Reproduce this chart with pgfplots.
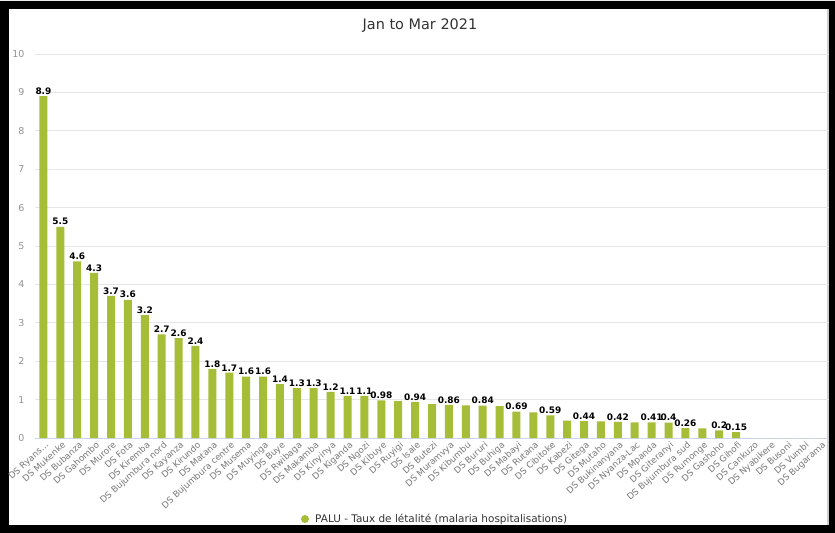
\documentclass[border=0pt]{standalone}
\usepackage{pgfplots}
\pgfplotsset{compat=1.18}
\usepackage{fontspec}
\setmainfont{DejaVu Sans}

\definecolor{barcol}{RGB}{166,189,56}
\definecolor{gridcol}{RGB}{230,230,230}
\definecolor{axiscol}{RGB}{204,214,235}
\definecolor{labcol}{RGB}{120,120,120}
\definecolor{titlecol}{RGB}{51,51,51}

\begin{document}
\begin{tikzpicture}
  % black frame around the white panel
  \path[use as bounding box] (0bp,0bp) rectangle (835bp,533bp);
  \fill[black] (0bp,0bp) rectangle (835bp,532bp);
  \fill[gray!15] (0bp,532bp) rectangle (835bp,533bp);
  \fill[white] (9bp,8bp) rectangle (829bp,524bp);
  \fill[gray!40] (827bp,8bp) rectangle (829bp,524bp);

  % title
  \node[text=titlecol, font=\fontsize{14.5}{17}\selectfont] at (420bp,507bp) {Jan to Mar 2021};

  \begin{axis}[
    at={(35bp,95bp)}, anchor=south west,
    scale only axis,
    width=794bp, height=384bp,
    ymin=0, ymax=10,
    xmin=-0.5, xmax=46.5,
    ytick={0,1,2,3,4,5,6,7,8,9,10},
    ymajorgrids,
    grid style={gridcol, line width=0.8bp},
    axis x line=bottom, axis y line=left,
    x axis line style={axiscol, line width=0.8bp, -},
    y axis line style={draw=none},
    major tick length=0pt,
    tick style={draw=none},
    yticklabel style={text=labcol!80, font=\fontsize{9.5}{11}\selectfont, xshift=-7bp},
    /pgf/number format/assume math mode=true,
    xtick={0,1,2,3,4,5,6,7,8,9,10,11,12,13,14,15,16,17,18,19,20,21,22,23,
      24,25,26,27,28,29,30,31,32,33,34,35,36,37,38,39,40,41,42,43,44,45,46},
    xticklabels={{DS Ryans\ldots}, DS Mukenke, DS Bubanza, DS Gahombo, DS Murore, DS Fota,
      DS Kiremba, DS Bujumbura nord, DS Kayanza, DS Kirundo, DS Matana,
      DS Bujumbura centre, DS Musema, DS Muyinga, DS Buye, DS Rwibaga, DS Makamba,
      DS Kinyinya, DS Kiganda, DS Ngozi, DS Kibuye, DS Ruyigi, DS Isale, DS Butezi,
      DS Muramvya, DS Kibumbu, DS Bururi, DS Buhiga, DS Mabayi, DS Rutana,
      DS Cibitoke, DS Kabezi, DS Gitega, DS Mutaho, DS Bukinanyana, DS Nyanza-Lac,
      DS Mpanda, DS Giteranyi, DS Bujumbura sud, DS Rumonge, DS Gashoho, DS Gihofi,
      DS Cankuzo, DS Nyabikere, DS Busoni, DS Vumbi, DS Bugarama},
    xticklabel style={rotate=42, anchor=north east, inner sep=1bp,
      text=labcol, font=\fontsize{8.8}{10}\selectfont, yshift=-2bp},
    ybar, bar width=8bp,
    clip=false,
  ]
    % every bar
    \addplot[barcol, fill=barcol, draw=none, bar shift=0pt, forget plot] coordinates {
      (0,8.9) (1,5.5) (2,4.6) (3,4.3) (4,3.7) (5,3.6) (6,3.2) (7,2.7) (8,2.6)
      (9,2.4) (10,1.8) (11,1.7) (12,1.6) (13,1.6) (14,1.4) (15,1.3) (16,1.3)
      (17,1.2) (18,1.1) (19,1.1) (20,0.98) (21,0.96) (22,0.94) (23,0.88)
      (24,0.86) (25,0.85) (26,0.84) (27,0.83) (28,0.69) (29,0.67) (30,0.59)
      (31,0.45) (32,0.44) (33,0.43) (34,0.42) (35,0.41) (36,0.41) (37,0.4)
      (38,0.26) (39,0.25) (40,0.2) (41,0.15) (42,0) (43,0) (44,0) (45,0) (46,0)
    };
    % value labels shown above the bars
    \addplot[draw=none, fill=none, bar shift=0pt, forget plot,
      point meta=explicit symbolic,
      nodes near coords,
      nodes near coords style={text=black, inner sep=1.5bp,
        font=\bfseries\fontsize{9}{10}\selectfont}] coordinates {
      (0,8.9)[8.9] (1,5.5)[5.5] (2,4.6)[4.6] (3,4.3)[4.3] (4,3.7)[3.7]
      (5,3.6)[3.6] (6,3.2)[3.2] (7,2.7)[2.7] (8,2.6)[2.6] (9,2.4)[2.4]
      (10,1.8)[1.8] (11,1.7)[1.7] (12,1.6)[1.6] (13,1.6)[1.6] (14,1.4)[1.4]
      (15,1.3)[1.3] (16,1.3)[1.3] (17,1.2)[1.2] (18,1.1)[1.1] (19,1.1)[1.1]
      (20,0.98)[0.98] (22,0.94)[0.94] (24,0.86)[0.86] (26,0.84)[0.84]
      (28,0.69)[0.69] (30,0.59)[0.59] (32,0.44)[0.44] (34,0.42)[0.42]
      (36,0.41)[0.41] (37,0.4)[0.4] (38,0.26)[0.26] (40,0.2)[0.2]
      (41,0.15)[0.15]
    };
  \end{axis}

  % legend
  \fill[barcol] (305bp,14bp) circle (4bp);
  \node[anchor=west, text=titlecol, font=\fontsize{10.5}{12}\selectfont, inner sep=0pt]
    at (315bp,14bp) {PALU - Taux de létalité (malaria hospitalisations)};
\end{tikzpicture}
\end{document}
